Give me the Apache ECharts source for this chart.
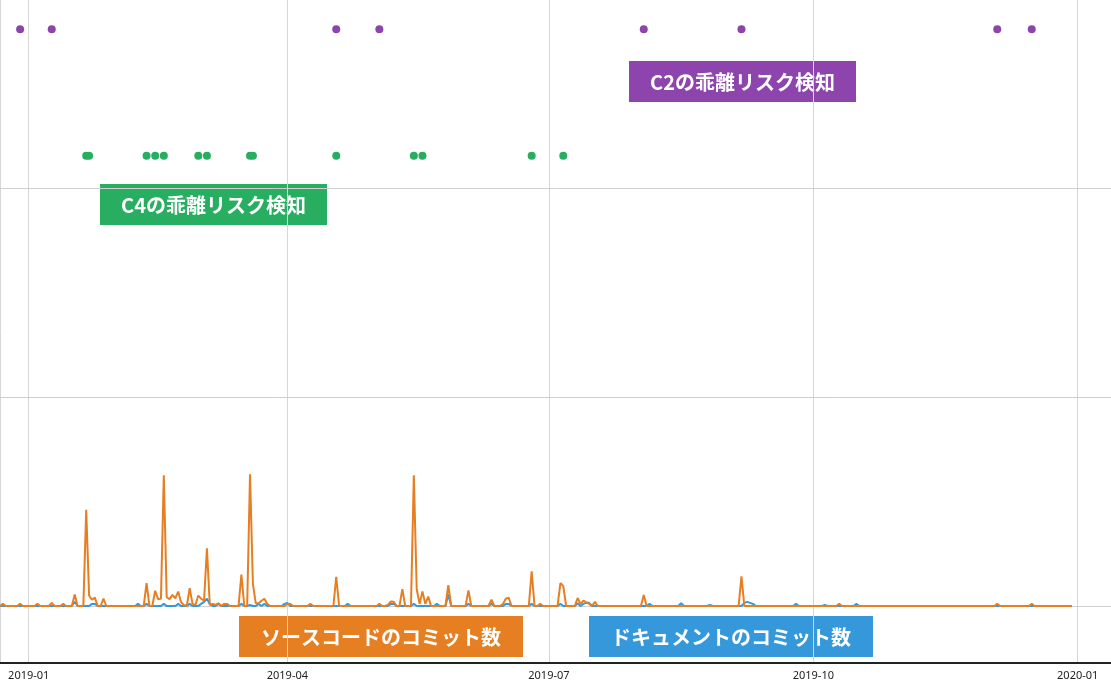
<!DOCTYPE html>
<html>
<head>
<meta charset="utf-8">
<script src="https://cdn.jsdelivr.net/npm/echarts@6/dist/echarts.min.js"></script>
<style>
html,body{margin:0;padding:0;background:#fff;}
#chart{width:1111px;height:686px;}
</style>
</head>
<body>
<div id="chart"></div>
<script>
// ---- data (daily commit counts, starting 2018-12-20) ----
const seriesStart = [2018, 11, 20];
// source code commits (orange)
const srcDec18 = [0,0,0,1,0,0,0,0,0,1,0,0];
const srcJan = [0,0,0,1,0,0,0,0,1.5,0,0,0,1,0,0,0,5.5,0,0,0,46,5,3,4,0,0,3.5,0,0,0,0];
const srcFeb = [0,0,0,0,0,0,0,0,0,0,11,0,0,7.3,3.3,3.5,62.6,4.2,3.3,5.3,3.7,6.9,1.8,0.5,0,8.5,1,0.5];
const srcMar = [5,3.5,2.5,27.6,0.5,1,0.5,1.3,0,1,1,0,0,0,0,15,0,0,63,10.5,1.3,1.3,2.5,3.5,1,0,0,0,0,0,0];
const srcApr = [1,1,0,0,0,0,0,0,1,0,0,0,0,0,0,0,0,14,0,0,0,0,0,0,0,0,0,0,0,0];
const srcMay = [0,0,1,0,0,0.5,2.2,2,0,0,8.1,0,0,0,62.5,8,1,7,1,4.5,0,0,0,0,0,0,10,0,0,0,0];
const srcJun = [0,0,7.5,0,0,0,0,0,0,0,3,0,0,0,1,3.5,4,0,0,0,0,0,0,0,16.6,0,0,1,0,0];
const srcJul = [0,0,0,0,11,9.5,0,0,0,0,3.8,1,2.6,1.8,1,0,2,0,0,0,0,0,0,0,0,0,0,0,0,0,0];
const srcAug = [0,0,5.3,0,0,0,0,0,0,0,0,0,0,0,0,0,0,0,0,0,0,0,0,0,0,0,0,0,0,0,0];
const srcSep = [0,0,0,0,0,14.2,0,0,0,0,0,0,0,0,0,0,0,0,0,0,0,0,0,0,0,0,0,0,0,0];
const srcOct = [0,0,0,0,0,0,0,0,0,1,0,0,0,0,0,0,0,0,0,0,0,0,0,0,0,0,0,0,0,0,0];
const srcNov = [0,0,0,0,0,0,0,0,0,0,0,0,0,0,0,0,0,0,0,0,0,0,0,0,0,0,0,0,0,0];
const srcDec = [0,0,0,1,0,0,0,0,0,0,0,0,0,0,0,1,0,0,0,0,0,0,0,0,0,0,0,0,0,0];
// document commits (blue)
const docDec18 = [0,0,0,0,0,0,0,0,0,0,0,0];
const docJan = [0,0,0,0,0,0,0,0,0,0,0,0,0,0,0,0,2,0,0,0,0,0,1,1,0,0,0,0,0,0,0];
const docFeb = [0,0,0,0,0,0,0,1,0,0,1,0,0,0,0,0,1,0,0,0,0,1,0,0,0,1,0,0];
const docMar = [0,1,2,3.5,1,0,0,1,0,0,0,0,0,0,0,1,0,0,0.5,0,0,1,0,1,0,0,0,0,0,0,1];
const docApr = [1.5,0,0,0,0,0,0,0,0,0,0,0,0,0,0,0,0,0,0,0,0,1,0,0,0,0,0,0,0,0];
const docMay = [0,0,0,0,0,0,1,1,0,0,0,0,0,0,1,0,0,0,0,0,0,0,1,0,0,0,5.5,0,0,0,0];
const docJun = [0,0,1,0,0,0,0,0,0,0,1,0,0,0,0,1,1,0,0,0,0,0,0,0,1,0,0,0,0,0];
const docJul = [0,0,0,0,1,0,0,0,0,0,1.3,0,1,1.5,1.5,0,0,0,0,0,0,0,0,0,0,0,0,0,0,0,0];
const docAug = [0,0,0,0,1,0,0,0,0,0,0,0,0,0,0,1.4,0,0,0,0,0,0,0,0,0,0.5,0,0,0,0,0];
const docSep = [0,0,0,0,0,0,1.5,2,1.5,1,0,0,0,0,0,0,0,0,0,0,0,0,0,0,1,0,0,0,0,0];
const docOct = [0,0,0,0,0.5,0,0,0,0,0,0,0,0,0,0,1,0,0,0,0,0,0,0,0,0,0,0,0,0,0,0];
const docNov = [0,0,0,0,0,0,0,0,0,0,0,0,0,0,0,0,0,0,0,0,0,0,0,0,0,0,0,0,0,0];
const docDec = [0,0,0,0,0,0,0,0,0,0,0,0,0,0,0,0,0,0,0,0,0,0,0,0,0,0,0,0,0,0];
// detection events
const c2Dates = ['2018-12-29','2019-01-09','2019-04-18','2019-05-03','2019-08-03','2019-09-06','2019-12-04','2019-12-16'];
const c4Dates = ['2019-01-21','2019-01-22','2019-02-11','2019-02-14','2019-02-17','2019-03-01','2019-03-04','2019-03-19','2019-03-20','2019-04-18','2019-05-15','2019-05-18','2019-06-25','2019-07-06'];
const c2Level = 276;
const c4Level = 215.4;
const gridValues = [0, 100, 200];
const labelC2 = 'C2の乖離リスク検知';
const labelC4 = 'C4の乖離リスク検知';
const labelSrc = 'ソースコードのコミット数';
const labelDoc = 'ドキュメントのコミット数';

// ---- build ----
const srcAll = [].concat(srcDec18, srcJan, srcFeb, srcMar, srcApr, srcMay, srcJun, srcJul, srcAug, srcSep, srcOct, srcNov, srcDec);
const docAll = [].concat(docDec18, docJan, docFeb, docMar, docApr, docMay, docJun, docJul, docAug, docSep, docOct, docNov, docDec);
function dayTs(i){ return new Date(seriesStart[0], seriesStart[1], seriesStart[2] + i).getTime(); }
function parseD(s){ const p = s.split('-').map(Number); return new Date(p[0], p[1]-1, p[2]).getTime(); }
const srcData = srcAll.map((v,i)=>[dayTs(i), v]);
const docData = docAll.map((v,i)=>[dayTs(i), v]);
const c2Data = c2Dates.map(d=>[parseD(d), c2Level]);
const c4Data = c4Dates.map(d=>[parseD(d), c4Level]);

const COL = {purple:'#8e44ad', green:'#27ae60', orange:'#e67e22', blue:'#3498db'};
const FONT = '"Noto Sans CJK JP", "Noto Sans", sans-serif';
function tag(text, left, top, w, h, color){
  return {
    type:'group', left:left, top:top,
    children:[
      {type:'rect', shape:{x:0,y:0,width:w,height:h}, style:{fill:color}},
      {type:'text', x:w/2, y:h/2+1, style:{text:text, fill:'#fff', font:'bold 20px ' + FONT, align:'center', verticalAlign:'middle', textAlign:'center', textVerticalAlign:'middle'}}
    ]
  };
}

const chart = echarts.init(document.getElementById('chart'));
const DAY = 86400000;
chart.setOption({
  backgroundColor:'#fff',
  animation:false,
  grid:{left:0, right:0, top:0, bottom:23, containLabel:false},
  xAxis:{
    type:'time',
    min:new Date(2018,11,22).getTime(),
    max:new Date(2020,0,12,14).getTime(),
    minInterval:100*DAY, maxInterval:100*DAY,
    axisLine:{show:true, onZero:false, lineStyle:{color:'#222', width:2}},
    axisTick:{show:false},
    splitLine:{show:true, lineStyle:{color:'#d6d6d6', width:1}},
    axisLabel:{
      color:'#222', fontSize:11, fontFamily:'"Noto Sans", sans-serif', margin:7,
      showMinLabel:false, showMaxLabel:false,
      formatter:function(v){ const d=new Date(v); const m=d.getMonth()+1; return d.getFullYear()+'-'+(m<10?'0':'')+m; }
    }
  },
  yAxis:{
    type:'value', min:-27.27, max:289.95, show:false,
    splitLine:{show:false}
  },
  series:[
    {type:'line', data:[], silent:true, z:1,
     markLine:{silent:true, z:1, symbol:'none', label:{show:false},
       lineStyle:{color:'#cfcfcf', width:1, type:'solid'},
       data:gridValues.map(v=>({yAxis:v}))}},
    {name:labelDoc, type:'line', data:docData, showSymbol:false, symbol:'none', z:3,
     lineStyle:{color:COL.blue, width:2}, itemStyle:{color:COL.blue}},
    {name:labelSrc, type:'line', data:srcData, showSymbol:false, symbol:'none', z:4,
     lineStyle:{color:COL.orange, width:2}, itemStyle:{color:COL.orange}},
    {name:labelC2, type:'scatter', data:c2Data, symbolSize:8, z:5, itemStyle:{color:COL.purple, opacity:1}},
    {name:labelC4, type:'scatter', data:c4Data, symbolSize:8, z:5, itemStyle:{color:COL.green, opacity:1}}
  ],
  graphic:[
    tag(labelC2, 629, 61, 227, 41, COL.purple),
    tag(labelC4, 100, 184, 227, 41, COL.green),
    tag(labelSrc, 239, 616, 284, 41, COL.orange),
    tag(labelDoc, 589, 616, 284, 41, COL.blue)
  ]
});
</script>
</body>
</html>
